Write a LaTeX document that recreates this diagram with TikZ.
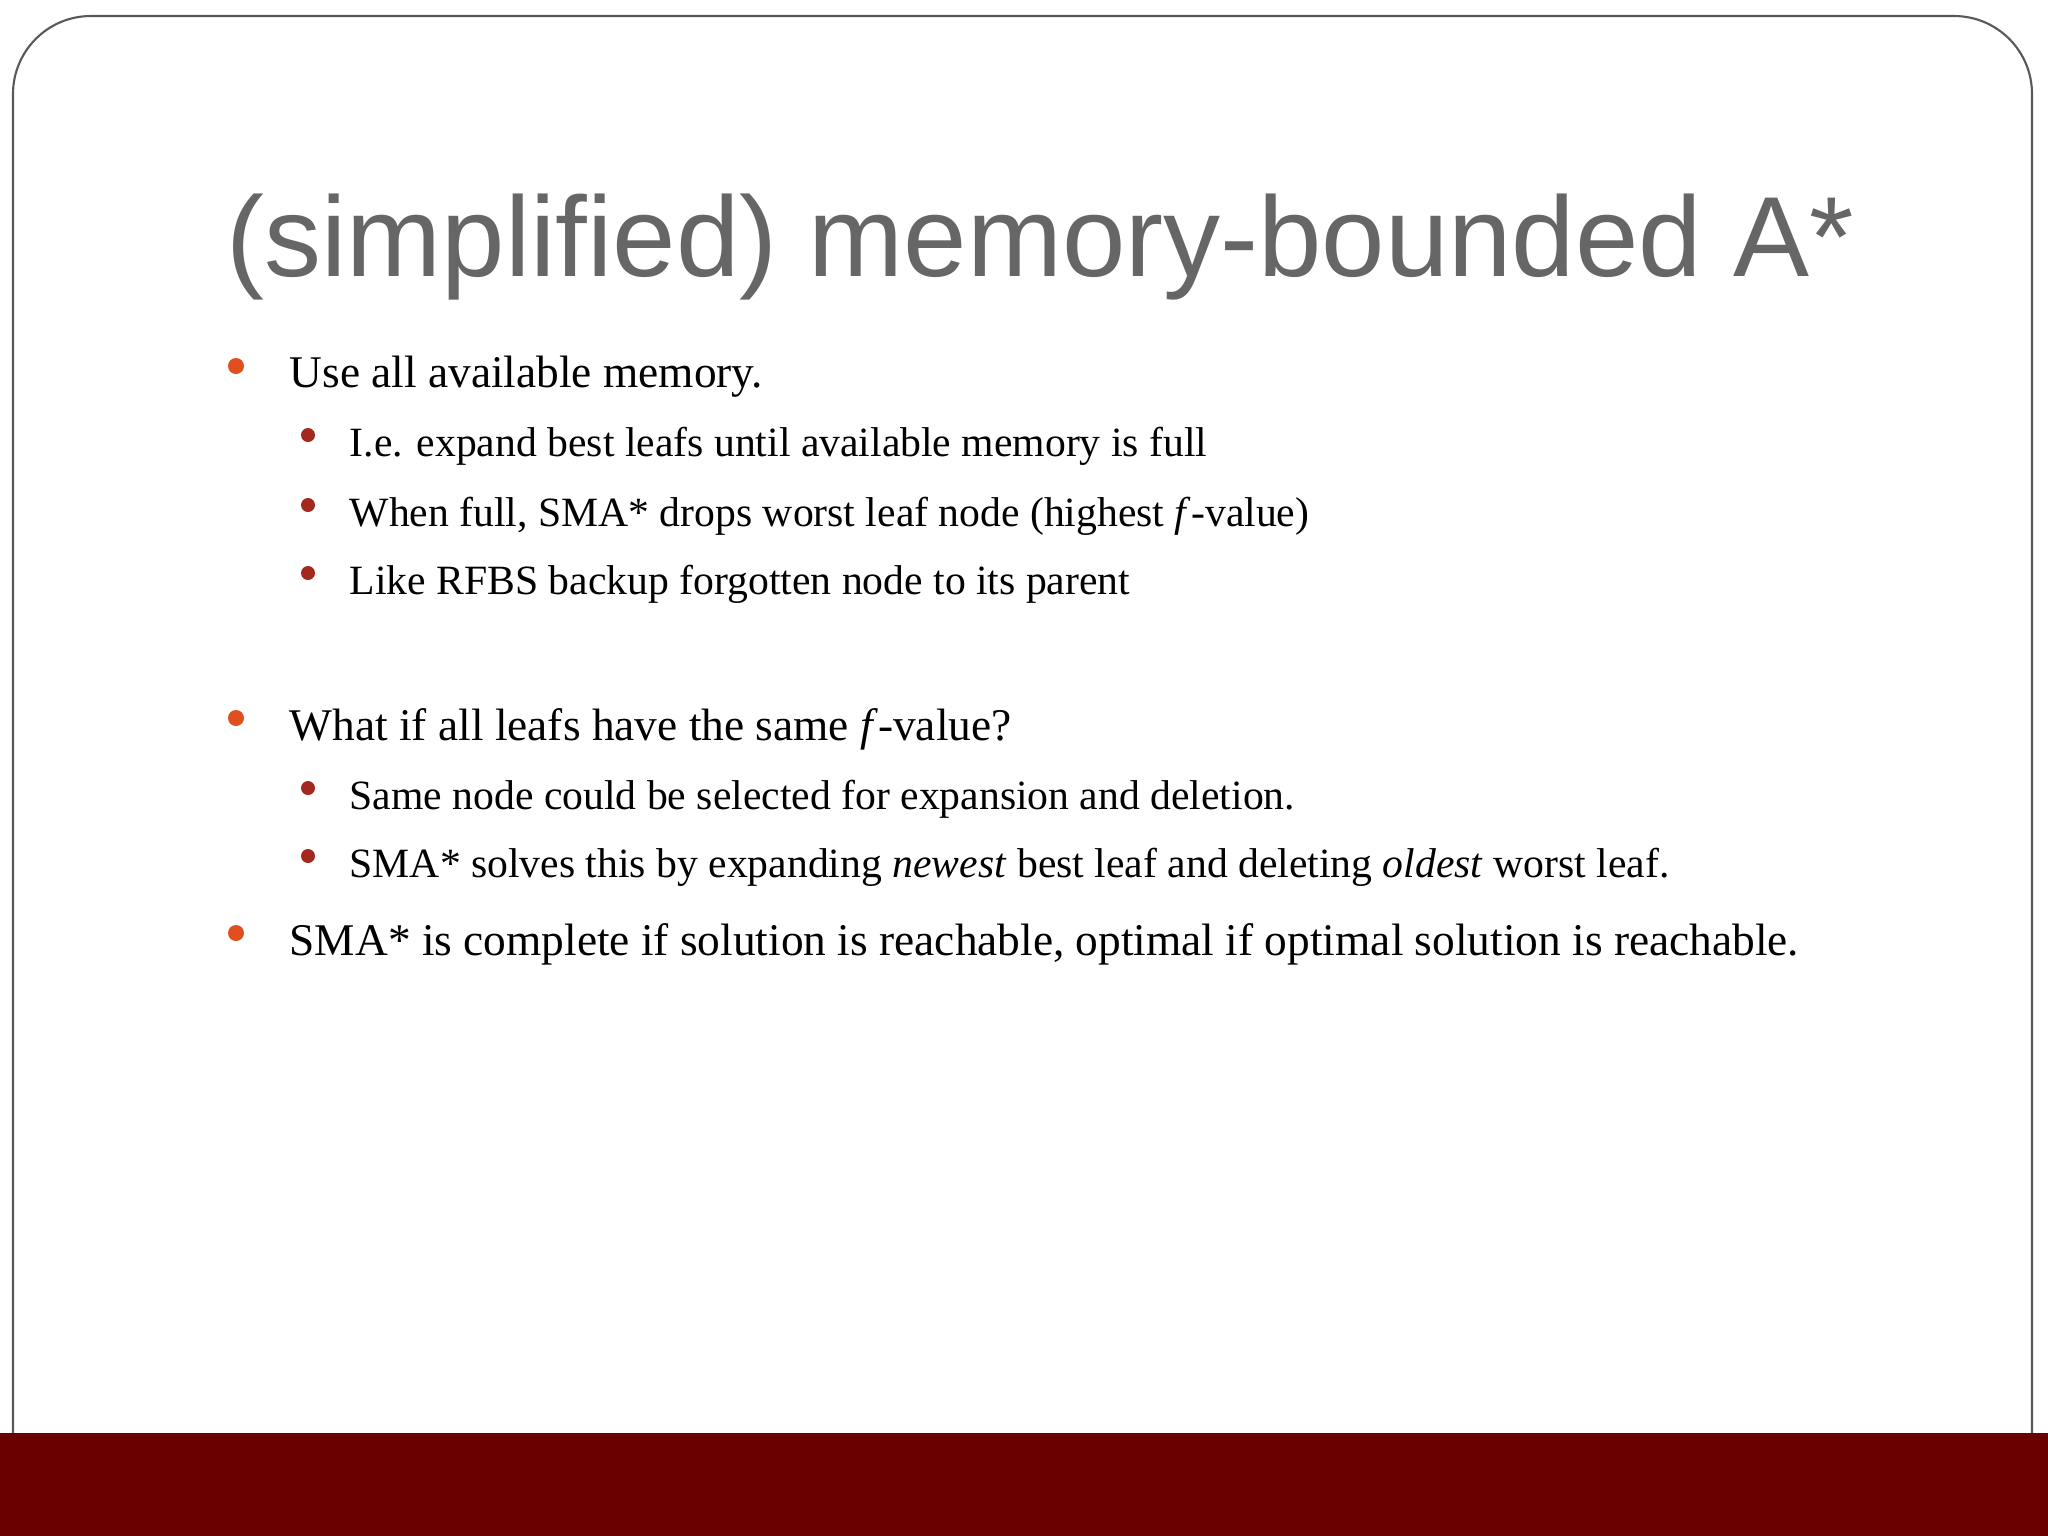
\documentclass[tikz,border=0pt]{standalone}
\usepackage{fontspec}
\setmainfont{Liberation Serif}
\newfontfamily\titlefont{Liberation Sans}
\definecolor{barred}{HTML}{6B0000}
\definecolor{titlegray}{HTML}{666666}
\definecolor{bulA}{HTML}{E0501E}
\definecolor{bulB}{HTML}{A3281E}
\begin{document}
\begin{tikzpicture}[x=0.01cm,y=-0.01cm,
  lone/.style={anchor=west,inner sep=0pt,font=\fontsize{12.9pt}{15pt}\selectfont},
  ltwo/.style={anchor=west,inner sep=0pt,font=\fontsize{11.85pt}{14pt}\selectfont},
  dotA/.style={fill=bulA,draw=none},
  dotB/.style={fill=bulB,draw=none}]
\useasboundingbox (0,0) rectangle (2048,1536);
\fill[white] (0,0) rectangle (2048,1536);
\draw[gray!70!black,line width=0.6pt,rounded corners=78pt*0.01/0.03515] (13,1440) -- (13,16) -- (2032,16) -- (2032,1440);
\fill[barred] (0,1433) rectangle (2048,1536);
\node[anchor=base west,inner sep=0pt,text=titlegray,font=\titlefont\fontsize{32.4pt}{38pt}\selectfont] (title) at (226,276) {(simplified) memory-bounded A*};
\fill[dotA] (236,366) circle (8);
\node[lone] (a1) at (289,377) {Use all available memory.};
\fill[dotB] (308,435) circle (7);
\node[ltwo] (b1) at (349,446) {I.e. expand best leafs until available memory is full};
\fill[dotB] (308,505) circle (7);
\node[ltwo] (b2) at (349,516) {When full, SMA* drops worst leaf node (highest \textit{f}-value)};
\fill[dotB] (308,573) circle (7);
\node[ltwo] (b3) at (349,584) {Like RFBS backup forgotten node to its parent};
\fill[dotA] (236,718) circle (8);
\node[lone] (a2) at (289,729) {What if all leafs have the same \textit{f}-value?};
\fill[dotB] (308,788) circle (7);
\node[ltwo] (b4) at (349,799) {Same node could be selected for expansion and deletion.};
\fill[dotB] (308,856) circle (7);
\node[ltwo] (b5) at (349,867) {SMA* solves this by expanding \textit{newest} best leaf and deleting \textit{oldest} worst leaf.};
\fill[dotA] (236,933) circle (8);
\node[lone] (a3) at (289,944) {SMA* is complete if solution is reachable, optimal if optimal solution is reachable.};
\end{tikzpicture}
\end{document}
